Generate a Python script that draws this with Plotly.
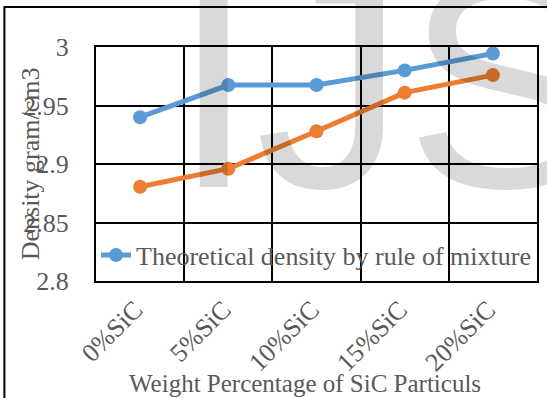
import plotly.graph_objects as go

categories = ["0%SiC", "5%SiC", "10%SiC", "15%SiC", "20%SiC"]
theoretical = [2.940, 2.9675, 2.9675, 2.980, 2.9945]
experimental = [2.8805, 2.896, 2.928, 2.961, 2.976]
y_ticks = [2.8, 2.85, 2.9, 2.95, 3.0]
y_tick_text = ["2.8", "2.85", "2.9", "2.95", "3"]

FONT = "Liberation Serif"
GRAY = "#595959"

fig = go.Figure()
fig.add_trace(go.Scatter(
    x=categories, y=theoretical, mode="lines+markers",
    name="Theoretical density by rule of mixture",
    line=dict(color="#5B9BD5", width=5),
    marker=dict(color="#5B9BD5", size=14),
))
fig.add_trace(go.Scatter(
    x=categories, y=experimental, mode="lines+markers",
    name="Experimental density", showlegend=False,
    line=dict(color="#ED7D31", width=5),
    marker=dict(color="#ED7D31", size=14),
))

fig.update_layout(
    width=547, height=398,
    margin=dict(l=96, r=8, t=47, b=117),
    paper_bgcolor="white", plot_bgcolor="white",
    font=dict(family=FONT, size=26, color=GRAY),
    showlegend=True,
    legend=dict(x=-0.0, y=0.111, xanchor="left", yanchor="middle",
                bgcolor="rgba(0,0,0,0)", font=dict(family=FONT, size=26, color=GRAY)),
    xaxis=dict(
        type="category", range=[-0.5, 4.5], tickson="boundaries",
        showgrid=True, gridcolor="black", gridwidth=2,
        showline=True, linecolor="black", linewidth=2, mirror=True,
        ticks="", tickangle=-45, ticklabelstandoff=1, ticklabelshift=-5,
        tickfont=dict(family=FONT, size=26, color=GRAY),
    ),
    yaxis=dict(
        range=[2.8, 3.0], tickvals=y_ticks, ticktext=y_tick_text,
        showgrid=True, gridcolor="black", gridwidth=2,
        showline=True, linecolor="black", linewidth=2, mirror=True,
        ticks="", ticklabelstandoff=20, zeroline=False,
        tickfont=dict(family=FONT, size=26, color=GRAY),
    ),
)

# axis titles
fig.add_annotation(text="Density gram/cm3", textangle=-90, xref="paper", yref="paper",
                   x=-0.149, y=0.5, xanchor="center", yanchor="middle", showarrow=False,
                   font=dict(family=FONT, size=26, color=GRAY))
fig.add_annotation(text="Weight Percentage of SiC Particuls", xref="paper", yref="paper",
                   x=0.474, y=-0.436, xanchor="center", yanchor="middle", showarrow=False,
                   font=dict(family=FONT, size=25, color=GRAY))

# watermark
fig.add_annotation(text="IJS", xref="paper", yref="paper", x=0.167, y=0.12,
                   xanchor="left", yanchor="bottom", showarrow=False,
                   font=dict(family="Liberation Sans", size=300, color="rgba(0,0,0,0.15)"))

# outer frame
fig.add_shape(type="rect", xref="paper", yref="paper", x0=-0.2077, x1=1.1,
              y0=-0.7, y1=1.171, line=dict(color="black", width=2), layer="above")

fig.write_html("out.html")
